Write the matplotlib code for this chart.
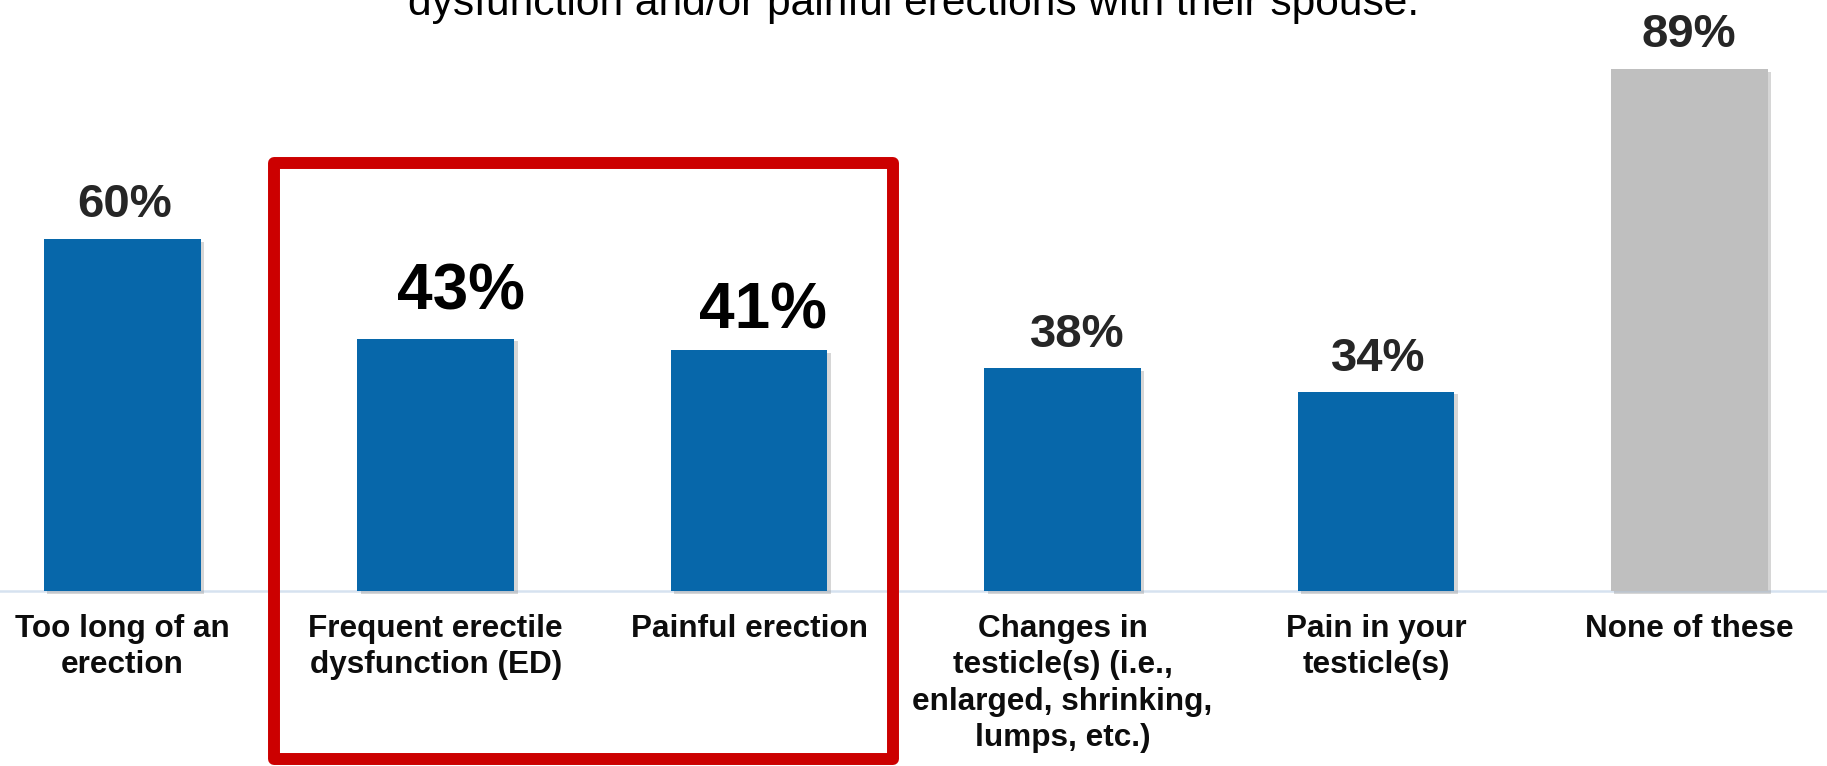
import matplotlib
matplotlib.use("Agg")
import matplotlib.pyplot as plt
import matplotlib.patheffects as pe
from matplotlib.patches import Rectangle

categories = ["Too long of an\nerection",
              "Frequent erectile\ndysfunction (ED)",
              "Painful erection",
              "Changes in\ntesticle(s) (i.e.,\nenlarged, shrinking,\nlumps, etc.)",
              "Pain in your\ntesticle(s)",
              "None of these"]
values = [60, 43, 41, 38, 34, 89]
value_labels = ["60%", "43%", "41%", "38%", "34%", "89%"]
title = "dysfunction and/or painful erections with their spouse."

# styles
bar_colors = ["#0767AA"] * 5 + ["#BFBFBF"]
label_sz = [34, 46, 46, 34, 34, 34]
label_col = ["#262626", "#000000", "#000000", "#262626", "#262626", "#262626"]
label_dx = [1.5, 18, 10, 11, 2, 0]      # points
label_dy = [16, 21, 16, 15, 15, 16]     # points
cat_sz = 22.7
title_sz = 30.6

plt.rcParams['font.family'] = ['Liberation Sans', 'DejaVu Sans']

fig = plt.figure(figsize=(18.27, 7.66), dpi=100)
ax = fig.add_axes([0, 0, 1, 1])
ax.set_xlim(-0.3902, 5.4394)
ax.set_ylim(-29.82, 100.72)
ax.axis("off")

x = list(range(len(values)))
shadow = [pe.SimplePatchShadow(offset=(2.5, -2), shadow_rgbFace="#8c8c8c", alpha=0.35), pe.Normal()]
bars = ax.bar(x, values, width=0.5, color=bar_colors, zorder=3)
for b in bars:
    b.set_path_effects(shadow)

# baseline
ax.axhline(0, color="#D6E2F0", linewidth=1.8, zorder=2)

for i, v in enumerate(values):
    ax.annotate(value_labels[i], (x[i], v), xytext=(label_dx[i], label_dy[i]),
                textcoords="offset points", ha="center", va="baseline",
                fontsize=label_sz[i], fontweight="bold", color=label_col[i], zorder=4)
    ax.text(x[i], -3.9, categories[i], ha="center", va="top", fontsize=cat_sz,
            fontweight="bold", color="#0d0d0d", linespacing=1.28, zorder=4)

# highlight box around ED / painful erection
box = Rectangle((0.484, -28.7), 2.459 - 0.484, 73.0 + 28.7, fill=False,
                edgecolor="#CC0000", linewidth=8.6, joinstyle="round",
                clip_on=False, zorder=5)
ax.add_patch(box)

fig.text(0.5, 1 - 15 / 766, title, ha="center", va="baseline",
         fontsize=title_sz, color="#000000")

plt.savefig("out.png", dpi=100)
